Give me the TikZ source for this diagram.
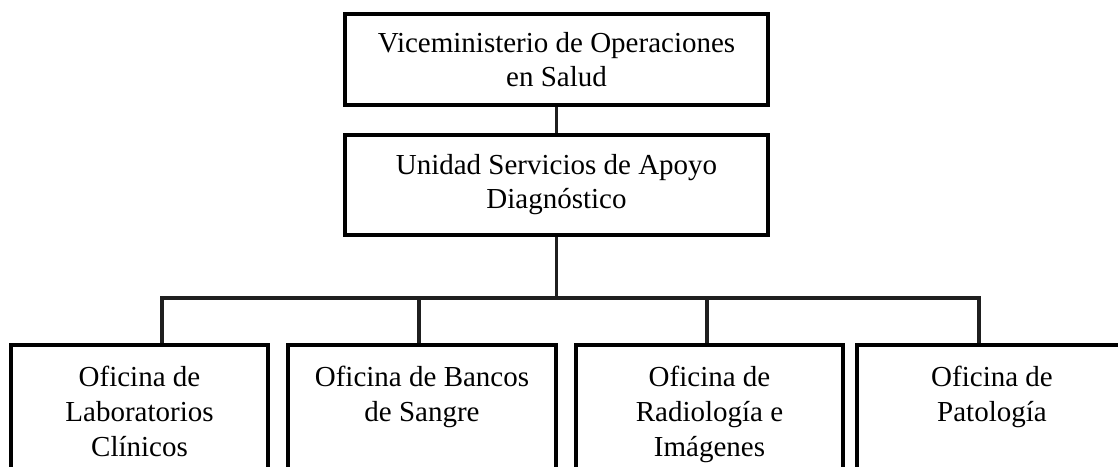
\documentclass[tikz,border=0pt]{standalone}
\usepackage{fontspec}
\setmainfont{Liberation Serif}
\tikzset{
  box/.style={draw=black, line width=4.2pt, inner sep=0pt, align=center,
    font=\fontsize{29}{34}\selectfont},
  obox/.style={draw=black, line width=4.2pt, inner sep=0pt},
  otext/.style={inner sep=0pt, align=center, anchor=north,
    font=\fontsize{29}{35}\selectfont},
  conn/.style={draw=black!88, line width=3.6pt},
}
\begin{document}
\begin{tikzpicture}[x=1pt,y=-1pt]
\useasboundingbox (0,0) rectangle (1118,466);
\clip (0,0) rectangle (1118,466);
% upper boxes
\node[box, minimum width=423pt, minimum height=91pt] (vice) at (556.5,59.5)
  {Viceministerio de Operaciones\\en Salud};
\node[box, minimum width=423pt, minimum height=100pt] (unit) at (556.5,185)
  {Unidad Servicios de Apoyo\\Diagnóstico};
% lower boxes (cut off at the bottom edge)
\node[obox, minimum width=257pt, minimum height=200pt] (b1) at (139.5,445) {};
\node[obox, minimum width=268pt, minimum height=200pt] (b2) at (422,445) {};
\node[obox, minimum width=267pt, minimum height=200pt] (b3) at (709.5,445) {};
\node[obox, minimum width=270pt, minimum height=200pt] (b4) at (992,445) {};
\node[otext] (t1) at (139.5,366) {Oficina de\\Laboratorios\\Clínicos};
\node[otext] (t2) at (422,366) {Oficina de Bancos\\de Sangre};
\node[otext] (t3) at (709.5,366) {Oficina de\\Radiología e\\Imágenes};
\node[otext] (t4) at (992,366) {Oficina de\\Patología};
% junctions
\coordinate (j1) at (162,298);
\coordinate (j2) at (419,298);
\coordinate (j3) at (707,298);
\coordinate (j4) at (979,298);
% connectors
\draw[conn] (vice.south) -- (unit.north);
\draw[conn] (unit.south) -- (unit.south |- j1);
\draw[conn, line cap=rect] (j1) -- (j4);
\draw[conn] (j1) -- (j1 |- b1.north);
\draw[conn] (j2) -- (j2 |- b2.north);
\draw[conn] (j3) -- (j3 |- b3.north);
\draw[conn] (j4) -- (j4 |- b4.north);
\end{tikzpicture}
\end{document}
